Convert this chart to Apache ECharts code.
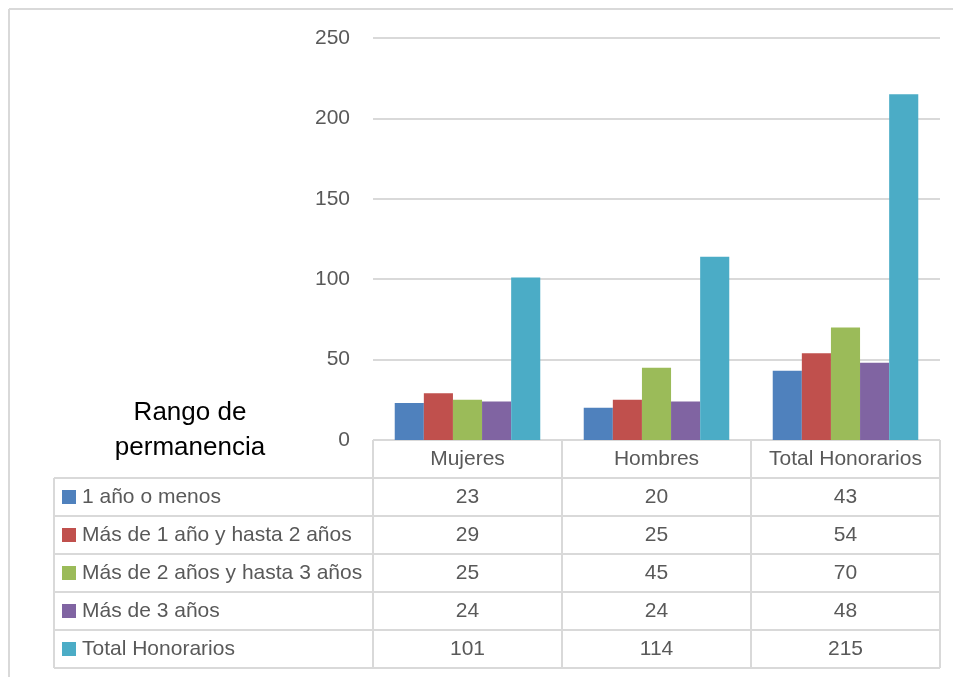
<!DOCTYPE html>
<html>
<head>
<meta charset="utf-8">
<script src="https://cdn.jsdelivr.net/npm/echarts@6/dist/echarts.min.js"></script>
<style>
  html, body { margin: 0; padding: 0; background: #fff; }
  #chart { width: 953px; height: 677px; }
</style>
</head>
<body>
<div id="chart"></div>
<script>
// datos
var categorias = ['Mujeres', 'Hombres', 'Total Honorarios'];
var rangos = ['1 año o menos', 'Más de 1 año y hasta 2 años', 'Más de 2 años y hasta 3 años', 'Más de 3 años', 'Total Honorarios'];
var unAnio = [23, 20, 43];
var unADos = [29, 25, 54];
var dosATres = [25, 45, 70];
var masTres = [24, 24, 48];
var totalHon = [101, 114, 215];
var colores = ['#4f81bd', '#c0504d', '#9bbb59', '#8064a2', '#4bacc6'];
var valores = [unAnio, unADos, dosATres, masTres, totalHon];

var FONT = '"Liberation Sans", Arial, sans-serif';
var gridL = 373, gridR = 940, gridT = 38, gridB = 440;
var rowH = 38, tablaL = 54;
var colW = (gridR - gridL) / categorias.length;

var chart = echarts.init(document.getElementById('chart'));

// tabla de datos bajo el grafico
var g = [];
var linea = { stroke: '#d9d9d9', lineWidth: 2 };
// borde exterior
g.push({ type: 'line', shape: { x1: 9, y1: 9, x2: 953, y2: 9 }, style: linea });
g.push({ type: 'line', shape: { x1: 9, y1: 9, x2: 9, y2: 677 }, style: linea });
// encabezado
g.push({ type: 'line', shape: { x1: gridL, y1: gridB, x2: gridR, y2: gridB }, style: linea });
var nFilas = rangos.length;
var yFin = gridB + rowH * (nFilas + 1);
for (var c = 0; c <= categorias.length; c++) {
  var x = gridL + c * colW;
  g.push({ type: 'line', shape: { x1: x, y1: gridB, x2: x, y2: yFin }, style: linea });
}
g.push({ type: 'line', shape: { x1: tablaL, y1: gridB + rowH, x2: tablaL, y2: yFin }, style: linea });
for (var r = 1; r <= nFilas + 1; r++) {
  var y = gridB + r * rowH;
  g.push({ type: 'line', shape: { x1: tablaL, y1: y, x2: gridR, y2: y }, style: linea });
}
rangos.forEach(function (nombre, i) {
  var yc = gridB + rowH * (i + 1) + rowH / 2;
  g.push({ type: 'rect', shape: { x: 62, y: yc - 7, width: 14, height: 14 }, style: { fill: colores[i] } });
  g.push({ type: 'text', x: 82, y: yc, style: { text: nombre, font: '21px ' + FONT, fill: '#595959', verticalAlign: 'middle', align: 'left' } });
  valores[i].forEach(function (v, j) {
    g.push({ type: 'text', x: gridL + colW * (j + 0.5), y: yc, style: { text: String(v), font: '21px ' + FONT, fill: '#595959', verticalAlign: 'middle', align: 'center' } });
  });
});
g.push({ type: 'text', x: 190, y: 430, style: { text: 'Rango de\npermanencia', font: '26px ' + FONT, fill: '#000', align: 'center', verticalAlign: 'middle', lineHeight: 35 } });

chart.setOption({
  animation: false,
  textStyle: { fontFamily: FONT },
  grid: { left: gridL, right: 953 - gridR, top: gridT, bottom: 677 - gridB, containLabel: false },
  xAxis: {
    type: 'category',
    data: categorias,
    axisLine: { show: false },
    axisTick: { show: false },
    axisLabel: { color: '#595959', fontSize: 21, margin: 9, interval: 0 }
  },
  yAxis: {
    type: 'value',
    min: 0, max: 250, interval: 50,
    axisLine: { show: false },
    axisTick: { show: false },
    axisLabel: { color: '#595959', fontSize: 21, margin: 23 },
    splitLine: { lineStyle: { color: '#d9d9d9', width: 2 } }
  },
  series: rangos.map(function (nombre, i) {
    return {
      name: nombre,
      type: 'bar',
      data: valores[i],
      barGap: '0%',
      barCategoryGap: '23%',
      itemStyle: { color: colores[i] }
    };
  }),
  graphic: g
});
</script>
</body>
</html>
